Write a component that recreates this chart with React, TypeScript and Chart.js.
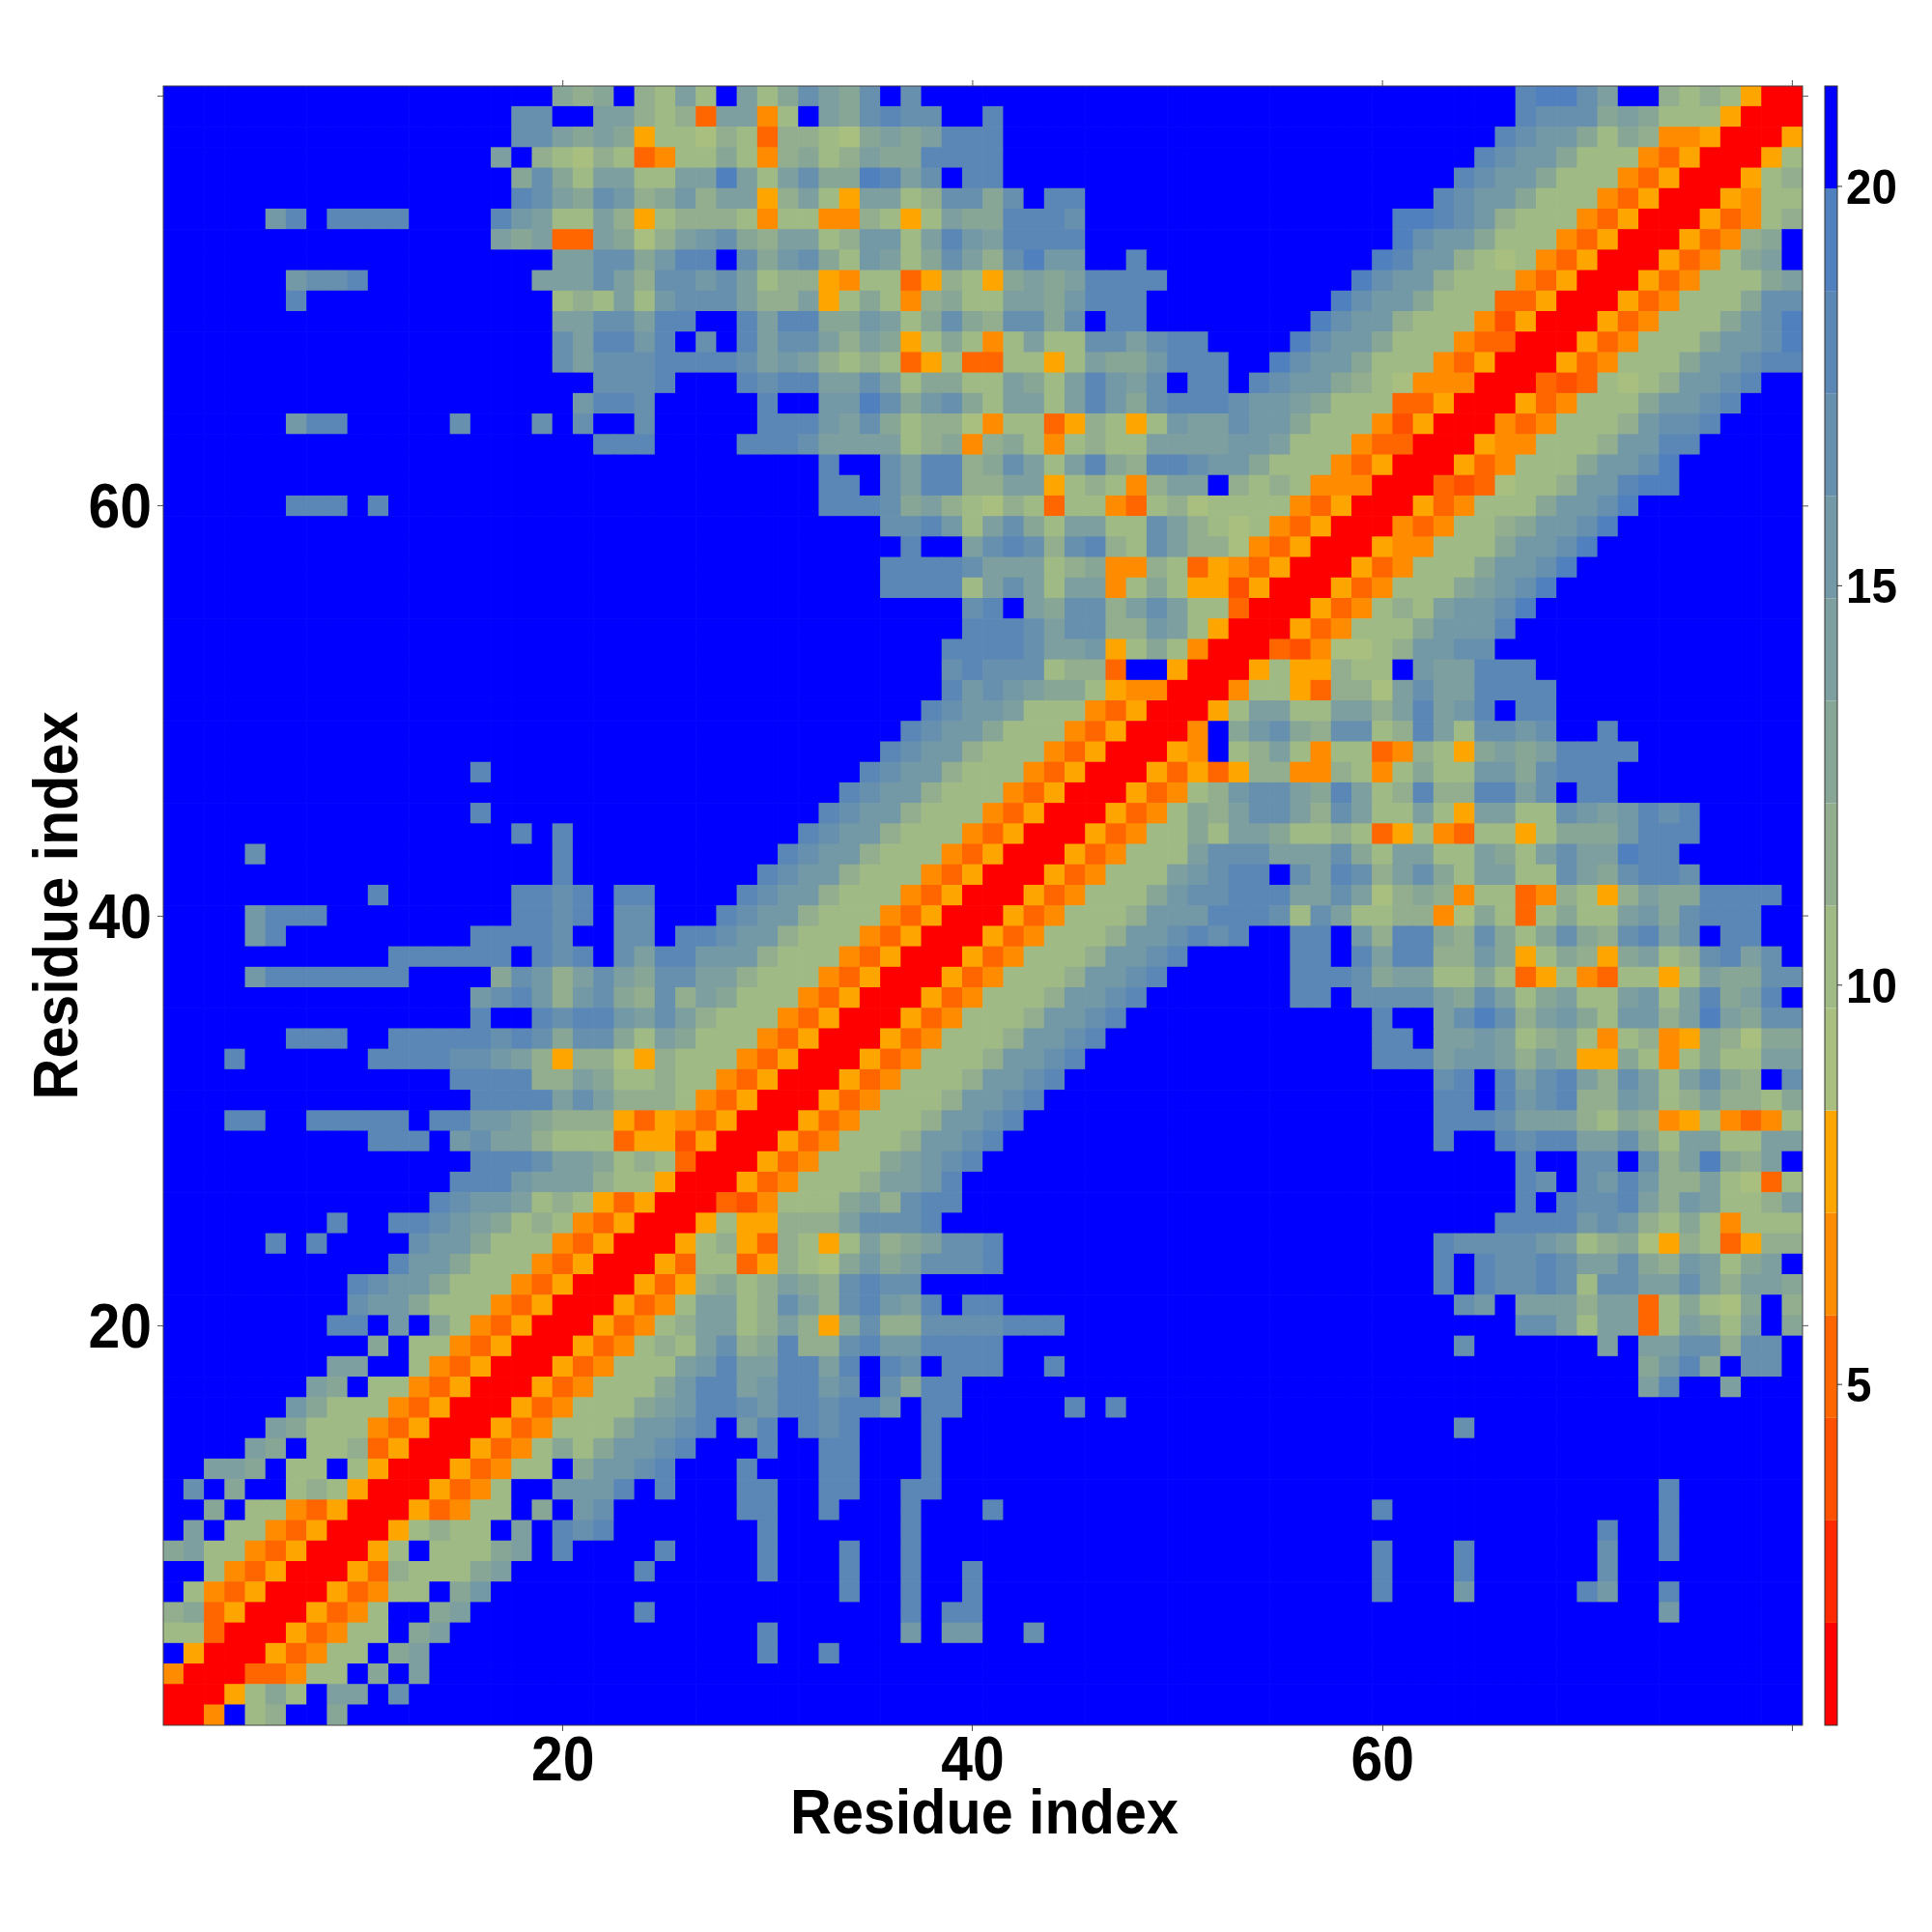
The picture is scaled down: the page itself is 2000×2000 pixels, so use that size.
import React, { useEffect, useRef } from "react";
import { Chart, registerables } from "chart.js";

Chart.register(...registerables);

// Contact-distance map, one hex digit per cell = colour level (0 = red ... f = blue).
// The map is symmetric; row N lists residues 1..N, grouped in tens.
const triangleRows: string[] = [
  "0",
  "00",
  "400",
  "f500",
  "77300",
  "893500",
  "f743500",
  "ff743500",
  "9a7743500",
  "faf7743500",
  "ff9f774350 0",
  "fcf9ff7875 00",
  "ffaa9f77f7 500",
  "ffffa9f778 3500",
  "fffffa9777 43500",
  "ffffffb977 743500",
  "fffffffa9f 7743500",
  "ffffffffaa ff743500",
  "ffffffffff 9f7743500",
  "ffffffffdd fbf9743500",
  "fffffffffc bb97774350 0",
  "fffffffffd cbb9777435 00",
  "ffffffffff fdbb977743 500",
  "fffffdfdff ffcbb97774 3500",
  "ffffffffdf fddcba9787 43500",
  "ffffffffff fffdcbba78 753500",
  "ffffffffff ffffdddbaa a877500",
  "ffffffffff fffffdddca a9787300",
  "ffffffffff dddfbcaa87 773552500",
  "fffddffddd ddfddbba98 8853543500",
  "ffffffffff fffffdddda ca88874350 0",
  "ffffffffff ffffdddd88 a977877435 00",
  "fffdffffff ddddccba85 8865877743 500",
  "ffffffdddf fdddddcdc9 cc97a97774 3500",
  "ffffffffff fffffdffdc ddbaca8777 43500",
  "ffffffffff fffffbcdb8 bc98c8a977 743500",
  "ffffbddddd ddffff9cb8 aca9ccaa87 7743500",
  "ffffffffff fddddddfdc dfcaddbbb8 77743500",
  "ffffbdffff fffffddddc ffccfddcbb 877743500",
  "ffffbdddff fffffffddc dfccfffdcb b877743500",
  "ffffffffff dffffffddc dfddffffdc bb87774350 0",
  "ffffffffff fffffffffd fffffffffd cbb8777435 00",
  "ffffcfffff fffffffffd ffffffffff dcbb877743 500",
  "ffffffffff fffffffdfd ffffffffff fdcbb87774 3500",
  "ffffffffff fffffdffff ffffffffff ffdcbb8777 43500",
  "ffffffffff ffffffffff ffffffffff fffdcbb877 743500",
  "ffffffffff fffffdffff ffffffffff ffffdcbb87 7743500",
  "ffffffffff ffffffffff ffffffffff fffffdcbb8 77743500",
  "ffffffffff ffffffffff ffffffffff ffffffdcbb 977743500",
  "ffffffffff ffffffffff ffffffffff fffffffdcb ba77743500",
  "ffffffffff ffffffffff ffffffffff ffffffffdb cba9975440 0",
  "ffffffffff ffffffffff ffffffffff ffffffffcd ccc7883ff5 00",
  "ffffffffff ffffffffff ffffffffff ffffffffdd ddcaab5797 400",
  "ffffffffff ffffffffff ffffffffff fffffffffd ddcacc88ba 7500",
  "ffffffffff ffffffffff ffffffffff fffffffffc dfa9cc8aca 77300",
  "ffffffffff ffffffffff ffffffffff fffffdddd7 aca7aa4797 552500",
  "ffffffffff ffffffffff ffffffffff fffffddddc aaa7894487 3543500",
  "ffffffffff ffffffffff ffffffffff ffffffdffa cdc8cd87ca 88643500",
  "ffffffffff ffffffffff ffffffffff fffffccdb7 ac97aa77ca 876743500",
  "ffffffdddf dfffffffff ffffffffff ffdddc9a87 6873774378 6777743500",
  "ffffffffff ffffffffff ffffffffff ffddfcadd8 8aa578748a af87874440 0",
  "ffffffffff ffffffffff ffffffffff ffdffcadd8 9ca7ad98dd cbb9777435 00",
  "ffffffffff ffffffffff fdddffffdd dcaaaa7894 89747877aa aabba77743 300",
  "ffffffbddf ffffcfffcf cffcfffffd ddbac97886 477358757b aacbb97774 2500",
  "ffffffffff ffffffffff bddcfffffd ffbbec9bc9 7aa7adb9cd ddcbba9777 33500",
  "ffffffffff ffffffffff fcccdfffdc ddaaca7997 7a97adbacf ddfdcbb987 644400",
  "ffffffffff fffffffffc acccddddca ba87873573 37757a99bd ddffecbb97 7743500",
  "ffffffffff fffffffffc addbdfcfda cca8a95797 47a77ccacd dffffecbb9 77743300",
  "ffffffffff fffffffffa accaddffda dd99ba79c9 8cc9cfddff ffffffecbb 877742500",
  "ffffffdfff fffffffff7 87a7bccca8 8a57974897 7aa9bdddff fffffffecb b977733500",
  "ffffffbccd ffffffffaa aca8ccbca7 8854773587 59a9addddf ffffffffec bb87774350 0",
  "ffffffffff fffffffffa acc9bddfc9 bc97ba79ca 8cebbffdff fffffffffe dbb8767435 00",
  "ffffffffff ffffffa9a3 3a968abc98 aa78bb7adb addddfffff ffffffffff ecbb977743 500",
  "fffffbdfdd ddffffdba7 7a85788874 77448757a9 9dddcfffff ffffffffff eedcb87774 3500",
  "ffffffffff fffffffdca 9cb89b8aa5 8a75aa78cc 9cfddfffff ffffffffff ffdcbb9777 43500",
  "ffffffffff fffffff9c9 7aa77aaea7 ac99edacfd dfffffffff ffffffffff fffdcbb977 743500",
  "ffffffffff ffffffaf87 6873477974 8978a99ddd dfffffffff ffffffffff ffffdcbb97 7743500",
  "ffffffffff fffffffcca 9a95776873 88769a9add dfffffffff ffffffffff fffffdcbb9 79844500",
  "ffffffffff fffffffccf faa8783aa4 7fa9cdccff dfffffffff ffffffffff ffffffdccc 9a9777500",
  "ffffffffff fffffffff9 89f87a7fa7 9ca9cfcfff ffffffffff ffffffffff ffffffdeec aff8787500",
];

const levelColors: string[] = [
  "#FF0000", "#FF2A00", "#FF5000", "#FF6600", "#FF8C00", "#FFA500",
  "#A8BF80", "#9FBA85", "#93AE8E", "#88A696", "#7E9F9F",
  "#7398A6", "#6790AE", "#5B87B7", "#5080BD", "#0000FF",
];

const residues: string[] = Array.from({ length: 80 }, (_, i) => String(i + 1));
const axisTicks: number[] = [20, 40, 60, 80];
const axisLabels: number[] = [20, 40, 60];
const barTicks: number[] = [5, 10, 15, 20];
const barMin = 0.733;
const barMax = 21.257;
const axisTitle = "Residue index";

const triangle = triangleRows.map((r) => r.replace(/ /g, ""));
const levelAt = (row: number, col: number): number =>
  parseInt(row >= col ? triangle[row][col] : triangle[col][row], 16);

const datasets = residues.map((_, row) => ({
  label: residues[row],
  data: residues.map(() => 1),
  backgroundColor: residues.map((_, col) => levelColors[levelAt(row, col)]),
  borderWidth: 0,
  barPercentage: 1,
  categoryPercentage: 1,
  stack: "map",
}));

const FONT = '"Liberation Sans", Arial, sans-serif';

function drawText(
  ctx: CanvasRenderingContext2D,
  text: string,
  x: number,
  y: number,
  size: number,
  sx: number,
  align: CanvasTextAlign,
  rotate = 0
) {
  ctx.save();
  ctx.translate(x, y);
  if (rotate) ctx.rotate(rotate);
  ctx.scale(sx, 1);
  ctx.font = `bold ${size}px ${FONT}`;
  ctx.textAlign = align;
  ctx.textBaseline = "alphabetic";
  ctx.fillStyle = "#000";
  ctx.fillText(text, 0, 0);
  ctx.restore();
}

const decorations = {
  id: "decorations",
  afterDraw(chart: any) {
    const { ctx, chartArea: a, scales } = chart;
    const { x, y, cb } = scales;
    ctx.save();
    ctx.strokeStyle = "#444";
    ctx.lineWidth = 1;
    ctx.strokeRect(a.left, a.top, a.right - a.left, a.bottom - a.top);

    // mirrored tick marks on top and right
    ctx.strokeStyle = "#555";
    ctx.beginPath();
    axisTicks.forEach((t) => {
      const px = x.getPixelForValue(t - 1);
      ctx.moveTo(px, a.top);
      ctx.lineTo(px, a.top - 6);
      const py = y.getPixelForValue(t - 0.5);
      ctx.moveTo(a.right, py);
      ctx.lineTo(a.right + 6, py);
    });
    ctx.stroke();

    // colour bar
    const barLeft = a.right + 23;
    const barRight = a.right + 36;
    const step = (barMax - barMin) / levelColors.length;
    levelColors.forEach((c, i) => {
      const p0 = cb.getPixelForValue(barMin + i * step);
      const p1 = cb.getPixelForValue(barMin + (i + 1) * step);
      ctx.fillStyle = c;
      ctx.fillRect(barLeft, p1, barRight - barLeft, p0 - p1);
    });
    ctx.strokeStyle = "#333";
    ctx.strokeRect(barLeft, a.top, barRight - barLeft, a.bottom - a.top);
    ctx.beginPath();
    barTicks.forEach((t) => {
      const py = cb.getPixelForValue(t);
      ctx.moveTo(barRight, py);
      ctx.lineTo(barRight + 5, py);
    });
    ctx.stroke();
    ctx.restore();

    barTicks.forEach((t) =>
      drawText(ctx, String(t), a.right + 45, cb.getPixelForValue(t) + 18, 50, 0.95, "left")
    );
    axisLabels.forEach((t) => {
      drawText(ctx, String(t), x.getPixelForValue(t - 1), a.bottom + 57, 64, 0.92, "center");
      drawText(ctx, String(t), a.left - 12, y.getPixelForValue(t - 0.5) + 22.5, 64, 0.92, "right");
    });
    drawText(ctx, axisTitle, (a.left + a.right) / 2 + 1.5, a.bottom + 112, 64, 0.926, "center");
    drawText(ctx, axisTitle, a.left - 89, (a.top + a.bottom) / 2, 64, 0.926, "center", -Math.PI / 2);
  },
};

export default function App() {
  const ref = useRef<HTMLCanvasElement | null>(null);

  useEffect(() => {
    if (!ref.current) return;
    const chart = new Chart(ref.current, {
      type: "bar",
      data: { labels: residues, datasets },
      plugins: [decorations],
      options: {
        animation: false,
        responsive: false,
        devicePixelRatio: 1,
        events: [],
        layout: { padding: { left: 163, top: 89, right: 134, bottom: 208 } },
        plugins: { legend: { display: false }, tooltip: { enabled: false } },
        scales: {
          x: {
            type: "category",
            stacked: true,
            offset: true,
            afterBuildTicks: (s: any) => {
              s.ticks = axisTicks.map((t) => ({ value: t - 1 }));
            },
            ticks: { display: false, autoSkip: false },
            border: { display: false },
            grid: {
              offset: false,
              drawOnChartArea: false,
              drawTicks: true,
              tickLength: 6,
              tickColor: "#555",
              lineWidth: 1,
            },
          },
          y: {
            type: "linear",
            stacked: true,
            min: 0,
            max: 80,
            afterBuildTicks: (s: any) => {
              s.ticks = axisTicks.map((t) => ({ value: t - 0.5 }));
            },
            ticks: { display: false },
            border: { display: false },
            grid: {
              drawOnChartArea: false,
              drawTicks: true,
              tickLength: 6,
              tickColor: "#555",
              lineWidth: 1,
            },
          },
          cb: {
            type: "linear",
            axis: "y",
            display: false,
            min: barMin,
            max: barMax,
          },
        },
      },
    } as any);
    return () => chart.destroy();
  }, []);

  return (
    <div style={{ position: "absolute", left: 0, top: 0, width: 2000, height: 2000, background: "#fff" }}>
      <canvas ref={ref} width={2000} height={2000} style={{ display: "block" }} />
    </div>
  );
}
